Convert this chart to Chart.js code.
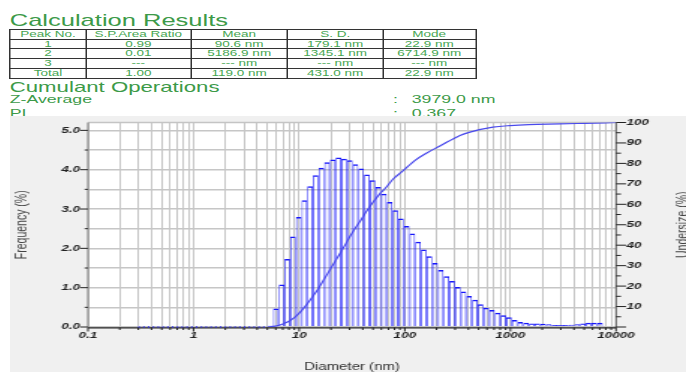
<!DOCTYPE html>
<html>
<head>
<meta charset="utf-8">
<script src="https://cdn.jsdelivr.net/npm/chart.js@4.4.1/dist/chart.umd.min.js"></script>
<style>
  html, body { margin:0; padding:0; width:686px; height:372px; overflow:hidden; background:#ffffff; font-family:"Liberation Sans", Arial, sans-serif; }
  #top { position:absolute; left:0; top:0; width:458px; height:122px; transform:scaleX(1.5); transform-origin:0 0; color:#3c9a48; }
  #top .t { position:absolute; white-space:nowrap; line-height:1; }
  #res { position:absolute; left:6.2px; top:29px; border-collapse:collapse; table-layout:fixed; font-size:9px; color:#46a652; }
  #res td { border:1px solid #333; padding:0; height:8.7px; line-height:8.7px; text-align:center; overflow:hidden; white-space:nowrap; }
  #wrap { position:absolute; left:10px; top:116px; width:676px; height:256px; background:#f0f0f0; }
  #chart { display:block; }
</style>
</head>
<body>
<div id="top">
  <div class="t" style="left:6.5px;top:11.6px;font-size:17px;">Calculation Results</div>
  <table id="res">
    <colgroup><col style="width:50.5px"><col style="width:70px"><col style="width:64.6px"><col style="width:63.4px"><col style="width:62px"></colgroup>
    <tr><td>Peak No.</td><td>S.P.Area Ratio</td><td>Mean</td><td>S. D.</td><td>Mode</td></tr>
    <tr><td>1</td><td>0.99</td><td>90.6 nm</td><td>179.1 nm</td><td>22.9 nm</td></tr>
    <tr><td>2</td><td>0.01</td><td>5186.9 nm</td><td>1345.1 nm</td><td>6714.9 nm</td></tr>
    <tr><td>3</td><td>---</td><td>--- nm</td><td>--- nm</td><td>--- nm</td></tr>
    <tr><td>Total</td><td>1.00</td><td>119.0 nm</td><td>431.0 nm</td><td>22.9 nm</td></tr>
  </table>
  <div class="t" style="left:6.5px;top:79.8px;font-size:14.8px;">Cumulant Operations</div>
  <div class="t" style="left:6.5px;top:94px;font-size:11.8px;">Z-Average</div>
  <div class="t" style="left:262px;top:94px;font-size:11.8px;">:</div>
  <div class="t" style="left:274.5px;top:94px;font-size:11.8px;">3979.0 nm</div>
  <div class="t" style="left:6.5px;top:107.5px;font-size:11.8px;">PI</div>
  <div class="t" style="left:262px;top:107.5px;font-size:11.8px;">:</div>
  <div class="t" style="left:274.5px;top:107.5px;font-size:11.8px;">0.367</div>
</div>
<div id="wrap"><canvas id="chart" width="451" height="256" style="width:676px;height:256px;"></canvas></div>
<script>
// ---- data ----
const freqX = [5.32, 6.02, 6.82, 7.72, 8.73, 9.89, 11.19, 12.67, 14.34, 16.23, 18.37, 20.79, 23.53, 26.65, 30.16, 34.14, 38.64, 43.74, 49.52, 56.04, 63.43, 71.80, 81.27, 91.99, 104.1, 117.9, 133.4, 151.0, 171.0, 193.5, 219.0, 247.9, 280.6, 317.7, 359.6, 407.0, 460.7, 521.5, 590.4, 668.3, 756.4, 856.2, 969.0, 1097, 1242, 1406, 1591, 1800, 2038, 2307, 2611, 2956, 3346, 3788, 4287, 4853, 5493, 6218, 7040];
const freqY = [0.03, 0.47, 1.08, 1.73, 2.30, 2.80, 3.22, 3.58, 3.86, 4.05, 4.19, 4.26, 4.31, 4.28, 4.24, 4.14, 4.03, 3.88, 3.73, 3.56, 3.39, 3.18, 2.97, 2.76, 2.57, 2.38, 2.17, 1.97, 1.80, 1.63, 1.45, 1.29, 1.17, 1.02, 0.90, 0.79, 0.69, 0.58, 0.49, 0.43, 0.36, 0.30, 0.25, 0.18, 0.13, 0.11, 0.09, 0.09, 0.08, 0.07, 0.05, 0.05, 0.05, 0.06, 0.07, 0.09, 0.11, 0.11, 0.11];
const cumX = [5.0, 5.66, 6.41, 7.26, 8.21, 9.3, 10.53, 11.92, 13.49, 15.28, 17.29, 19.58, 22.16, 25.09, 31.5, 38.6, 45.2, 58.2, 65.0, 78.0, 93.5, 125, 160, 215, 333, 414, 683, 988, 1500, 2940, 5000, 10000];
const cumY = [0, 0.3, 0.8, 1.8, 3.2, 5.2, 8.0, 11.3, 15.0, 19.0, 23.5, 28.0, 32.5, 37.0, 45.7, 52.5, 57.9, 65.2, 67.7, 72.5, 75.8, 81.5, 85, 88.5, 93.7, 95.3, 97.7, 98.5, 99.0, 99.3, 99.6, 100];
const zeroX = [0.3, 5.0];
const zeroY = [0, 0];
const xTickValues = [0.1, 1, 10, 100, 1000, 10000];
const xTickLabels = ['0.1', '1', '10', '100', '1000', '10000'];
const yTickValues = [0, 0.5, 1, 1.5, 2, 2.5, 3, 3.5, 4, 4.5, 5];
const yTickLabels = ['0.0', '', '1.0', '', '2.0', '', '3.0', '', '4.0', '', '5.0'];
const y2TickValues = [0, 5, 10, 15, 20, 25, 30, 35, 40, 45, 50, 55, 60, 65, 70, 75, 80, 85, 90, 95, 100];
const y2TickLabels = ['', '', '10', '', '20', '', '30', '', '40', '', '50', '', '60', '', '70', '', '80', '', '90', '', '100'];

const FAM = '"Liberation Sans", Arial, sans-serif';
const tickFont = { family: FAM, size: 9, style: 'italic', weight: 'bold' };
const BLUE = '#1818fa';

const noPad = (s) => { s.paddingTop = 0; s.paddingBottom = 0; s.paddingLeft = 0; s.paddingRight = 0; };

const deco = {
  id: 'deco',
  beforeDraw(chart) {
    const { ctx, chartArea: a } = chart;
    ctx.save();
    ctx.fillStyle = '#ffffff';
    ctx.fillRect(a.left, a.top, a.right - a.left, a.bottom - a.top);
    ctx.restore();
  },
  beforeDatasetsDraw(chart) {
    const { ctx, chartArea: a, scales } = chart;
    ctx.save();
    const seg = (x1, y1, x2, y2, c, w) => {
      ctx.beginPath(); ctx.strokeStyle = c; ctx.lineWidth = w;
      ctx.moveTo(x1, y1); ctx.lineTo(x2, y2); ctx.stroke();
    };
    seg(a.left, a.top, a.right, a.top, '#c4c4c4', 1.5);
    seg(a.left, a.top, a.left, a.bottom, '#7a7a7a', 1);
    seg(a.right, a.top, a.right, a.bottom + 0.8, '#555555', 1);
    seg(a.left, a.bottom + 0.9, a.right, a.bottom + 0.9, '#222222', 1.4);
    scales.y.ticks.forEach((t, i) => {
      const p = scales.y.getPixelForValue(t.value);
      const major = yTickLabels[i] !== '';
      seg(a.left - (major ? 5.3 : 2.2), p, a.left, p, '#222', 1);
    });
    scales.y2.ticks.forEach((t) => {
      const p = scales.y2.getPixelForValue(t.value);
      const major = t.value % 10 === 0;
      seg(a.right, p, a.right + (major ? 6.7 : 3.3), p, '#222', 1);
    });
    scales.xg.ticks.forEach((t) => {
      const p = scales.x.getPixelForValue(t.value);
      seg(p, a.bottom + 0.5, p, a.bottom + (t.major ? 4.5 : 3), '#222', 1);
    });
    ctx.restore();
  },
  afterDraw(chart) {
    const { ctx, chartArea: a } = chart;
    ctx.save();
    ctx.translate(451.5, (a.top + a.bottom) / 2);
    ctx.rotate(-Math.PI / 2);
    ctx.font = '10.5px ' + FAM;
    ctx.fillStyle = '#444';
    ctx.textAlign = 'center';
    ctx.textBaseline = 'alphabetic';
    ctx.fillText('Undersize (%)', 0, 0);
    ctx.restore();
  }
};

new Chart(document.getElementById('chart'), {
  type: 'bar',
  data: {
    datasets: [
      {
        type: 'bar',
        label: 'Frequency',
        data: freqX.map((x, i) => ({ x: x, y: freqY[i] })),
        xAxisID: 'x', yAxisID: 'y',
        backgroundColor: 'rgba(0,0,0,0)',
        borderColor: BLUE,
        borderWidth: { top: 1.5, left: 0.65, right: 0.65, bottom: 0 },
        borderSkipped: 'start',
        inflateAmount: 0,
        barPercentage: 1, categoryPercentage: 1,
        order: 2
      },
      {
        type: 'line',
        label: 'Undersize',
        data: cumX.map((x, i) => ({ x: x, y: cumY[i] })),
        xAxisID: 'x', yAxisID: 'y2',
        borderColor: '#4a4aec', borderWidth: 1.2,
        pointRadius: 0, cubicInterpolationMode: 'monotone', fill: false,
        order: 1
      },
      {
        type: 'line',
        label: 'zero bins',
        data: zeroX.map((x, i) => ({ x: x, y: zeroY[i] })),
        xAxisID: 'x', yAxisID: 'y',
        borderColor: '#2a2af0', borderWidth: 1.5, borderDash: [1, 2.2],
        pointRadius: 0, fill: false, clip: 4,
        order: 0
      }
    ]
  },
  options: {
    responsive: false,
    animation: false,
    devicePixelRatio: 1,
    layout: { padding: { top: 6.5, left: 0, right: 0, bottom: 0 } },
    plugins: { legend: { display: false }, tooltip: { enabled: false } },
    scales: {
      x: {
        type: 'logarithmic', position: 'bottom', min: 0.1, max: 10000,
        offset: false,
        grid: { display: false, drawTicks: false, offset: false },
        border: { display: false },
        afterBuildTicks: (s) => { s.ticks = xTickValues.map(v => ({ value: v, major: true })); },
        ticks: { autoSkip: false, maxRotation: 0, padding: 3, font: tickFont, color: '#222',
                 callback: (v, i) => xTickLabels[i] },
        title: { display: true, text: 'Diameter (nm)', color: '#333',
                 font: { family: FAM, size: 10, lineHeight: 1 }, padding: 0 },
        afterFit: (s) => { s.height = 45; noPad(s); }
      },
      xg: {
        type: 'logarithmic', position: 'bottom', min: 0.1, max: 10000,
        offset: false,
        grid: { display: true, drawTicks: false, offset: false, color: '#c6c6c6', lineWidth: 1 },
        border: { display: false },
        afterBuildTicks: (s) => {
          const t = [];
          for (let e = -1; e <= 3; e++) {
            for (let m = 1; m <= 9; m++) t.push({ value: m * Math.pow(10, e), major: m === 1 });
          }
          t.push({ value: 10000, major: true });
          s.ticks = t;
        },
        ticks: { display: false, autoSkip: false },
        afterFit: (s) => { s.height = 0; noPad(s); }
      },
      y: {
        type: 'linear', position: 'left', min: 0, max: 5.2,
        grid: { drawTicks: false, color: '#c6c6c6', lineWidth: 1.5 },
        border: { display: false },
        afterBuildTicks: (s) => { s.ticks = yTickValues.map(v => ({ value: v })); },
        ticks: { autoSkip: false, padding: 5.3, font: tickFont, color: '#222',
                 callback: (v, i) => yTickLabels[i] },
        title: { display: true, text: 'Frequency (%)', color: '#444',
                 font: { family: FAM, size: 10.5, lineHeight: 1.2 }, padding: { top: 1.4, bottom: 0 } },
        afterFit: (s) => { s.width = 52; noPad(s); }
      },
      y2: {
        type: 'linear', position: 'right', min: 0, max: 100,
        grid: { display: false, drawTicks: false },
        border: { display: false },
        afterBuildTicks: (s) => { s.ticks = y2TickValues.map(v => ({ value: v })); },
        ticks: { autoSkip: false, padding: 7, font: tickFont, color: '#222',
                 callback: (v, i) => y2TickLabels[i] },
        afterFit: (s) => { s.width = 46.7; noPad(s); }
      }
    }
  },
  plugins: [deco]
});
</script>
</body>
</html>
